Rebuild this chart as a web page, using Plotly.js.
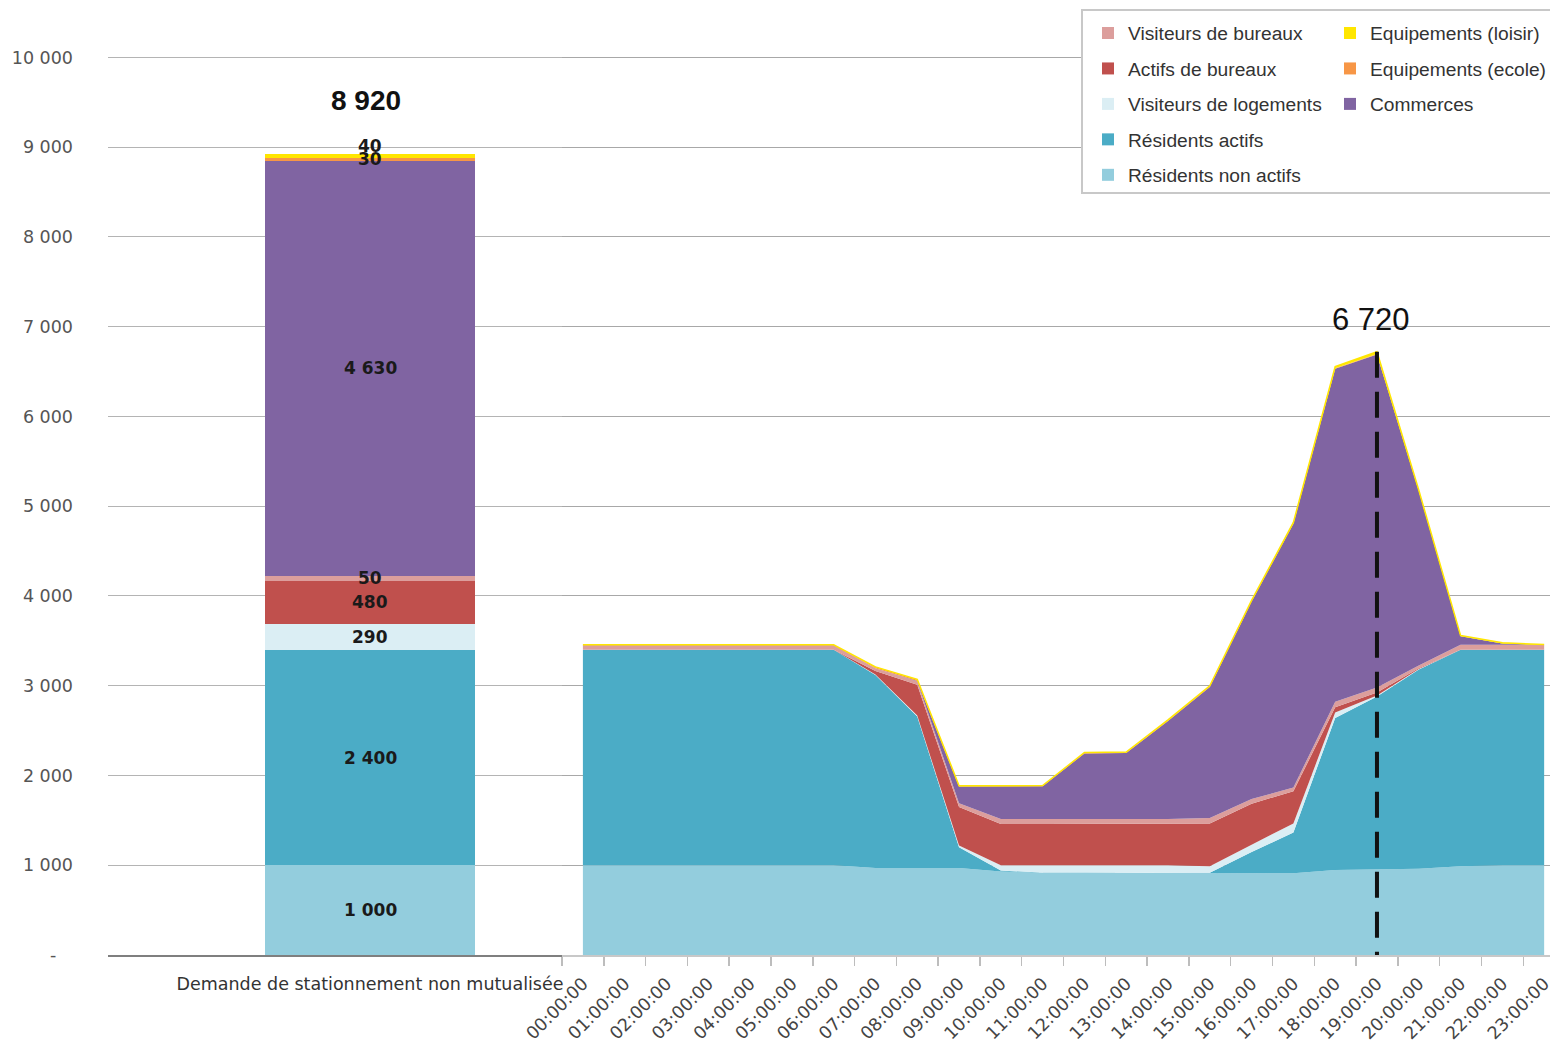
<!DOCTYPE html>
<html><head><meta charset="utf-8">
<script src="https://cdn.plot.ly/plotly-3.0.1.min.js"></script>
<style>html,body{margin:0;padding:0;background:#fff}#chart{width:1550px;height:1042px}</style>
</head><body><div id="chart"></div>
<script>
// ---------- DATA ----------
const barCategory = ['Demande de stationnement non mutualisée'];
// stacking order, bottom to top
const seriesNames = ['Résidents non actifs','Résidents actifs','Visiteurs de logements','Actifs de bureaux','Visiteurs de bureaux','Commerces','Equipements (ecole)','Equipements (loisir)'];
const barValues = [1000, 2400, 290, 480, 50, 4630, 30, 40];

const hours = ['00:00:00','01:00:00','02:00:00','03:00:00','04:00:00','05:00:00','06:00:00','07:00:00','08:00:00','09:00:00','10:00:00','11:00:00','12:00:00','13:00:00','14:00:00','15:00:00','16:00:00','17:00:00','18:00:00','19:00:00','20:00:00','21:00:00','22:00:00','23:00:00'];
const residentsNonActifs = [1000,1000,1000,1000,1000,1000,1000,970,970,970,930,918,918,918,915,910,910,910,948,950,960,990,1000,1000];
const residentsActifs    = [2400,2400,2400,2400,2400,2400,2400,2150,1687,230,10,0,0,0,0,5,237,456,1693,1930,2220,2410,2400,2400];
const visiteursLogements = [0,0,0,0,0,0,0,5,10,20,60,82,82,82,85,75,80,100,60,10,5,0,0,0];
const actifsBureaux      = [0,0,0,0,0,0,0,40,343,430,460,460,460,460,460,475,458,359,60,35,10,0,0,0];
const visiteursBureaux   = [55,55,55,55,55,55,55,30,37,40,56,56,56,56,56,60,52,40,60,55,30,55,55,55];
const commerces          = [0,0,0,0,0,0,0,0,5,186,363,365,730,735,1090,1460,2200,2940,3710,3710,1945,95,15,0];
const equipementsEcole   = [0,0,0,0,0,0,0,10,15,5,3,3,5,5,7,10,8,5,5,5,0,0,0,0];
const equipementsLoisir  = [0,0,0,0,0,0,0,5,5,5,3,3,5,5,7,5,5,10,20,25,10,10,8,3];

const yTickValues = [0,1000,2000,3000,4000,5000,6000,7000,8000,9000,10000];
const yTickLabels = ['-\u00A0\u00A0\u00A0','1 000','2 000','3 000','4 000','5 000','6 000','7 000','8 000','9 000','10 000'];

// ---------- STYLE ----------
const FONT = 'Liberation Sans, Arial, sans-serif';
const WIDE = 'DejaVu Sans, Verdana, sans-serif';
const colors = ['#93CDDD','#4BACC6','#DBEEF4','#C0504D','#DC9E9C','#8064A2','#F79646','#FFE600'];
const legendCfg = [ // [legend id, rank] per series
  ['legend',5],['legend',4],['legend',3],['legend',2],['legend',1],['legend2',3],['legend2',2],['legend2',1]
];
const W = 1550, H = 1042, T = 52, B = 87, YMAX = 10060;
const plotH = H - T - B;
const px = v => v / W;
const py = v => (H - B - v) / plotH;

const fmt = v => String(v).replace(/\B(?=(\d{3})+(?!\d))/g, ' ');

const areaSeries = [residentsNonActifs, residentsActifs, visiteursLogements, actifsBureaux, visiteursBureaux, commerces, equipementsEcole, equipementsLoisir];

const traces = [];
// stacked bar (left)
seriesNames.forEach((n, i) => {
  traces.push({
    type: 'bar', x: [0], y: [barValues[i]], width: [1], name: n,
    marker: {color: colors[i], line: {width: 0}},
    xaxis: 'x', yaxis: 'y',
    legend: legendCfg[i][0], legendrank: legendCfg[i][1], legendgroup: 'g' + i,
    hoverinfo: 'name+y'
  });
});
// stacked areas (right)
seriesNames.forEach((n, i) => {
  const isTop = i === seriesNames.length - 1;
  traces.push({
    type: 'scatter', mode: 'lines', x: hours, y: areaSeries[i], name: n,
    stackgroup: 'one', fillcolor: colors[i],
    line: {color: colors[i], width: isTop ? 1.5 : 0},
    xaxis: 'x2', yaxis: 'y2', showlegend: false
  });
});
// peak marker line
const totals = hours.map((h, k) => areaSeries.reduce((s, a) => s + a[k], 0));
const peakIdx = totals.indexOf(Math.max(...totals));
traces.push({
  type: 'scatter', mode: 'lines', x: [hours[peakIdx], hours[peakIdx]], y: [totals[peakIdx], 0],
  line: {color: '#111', width: 4, dash: '26px,14px'}, xaxis: 'x2', yaxis: 'y2',
  showlegend: false, hoverinfo: 'skip', cliponaxis: false
});

// annotations
const annotations = [];
let cum = 0;
barValues.forEach((v, i) => {
  annotations.push({
    x: 0, y: cum + v / 2, xref: 'x', yref: 'y', text: '<b>' + fmt(v) + '</b>', showarrow: false,
    yshift: i === barValues.length - 1 ? 10 : 0,
    font: {family: WIDE, size: 17, color: '#1a1a1a'}
  });
  cum += v;
});
annotations.push({
  x: 0, y: cum, xref: 'x', yref: 'y', text: '<b>' + fmt(cum) + '</b>', showarrow: false,
  yshift: 54, xshift: -4, font: {family: FONT, size: 28, color: '#111'}
});
annotations.push({
  x: hours[peakIdx], y: totals[peakIdx], xref: 'x2', yref: 'y2', text: fmt(totals[peakIdx]),
  showarrow: false, yanchor: 'bottom', yshift: 13, xshift: -6,
  font: {family: FONT, size: 31, color: '#111'}
});

const layout = {
  width: W, height: H,
  margin: {l: 0, r: 0, t: T, b: B, autoexpand: false},
  paper_bgcolor: '#fff', plot_bgcolor: 'rgba(0,0,0,0)',
  font: {family: FONT, color: '#444'},
  barmode: 'stack',
  xaxis: {
    domain: [px(108), px(562)], range: [-(370 - 108) / 210, (562 - 370) / 210],
    tickvals: [0], ticktext: barCategory, ticks: '', showgrid: false, zeroline: false,
    showline: true, linecolor: '#7f7f7f', linewidth: 1.5,
    tickfont: {family: WIDE, size: 17.5, color: '#333'}, ticklabelstandoff: 12, fixedrange: true
  },
  yaxis: {
    domain: [0, 1], range: [0, YMAX], tickvals: yTickValues, ticktext: yTickLabels,
    ticks: '', showgrid: true, gridcolor: '#B4B4B4', gridwidth: 1, zeroline: false,
    ticklabelstandoff: 34, tickfont: {family: WIDE, size: 17.5, color: '#555'}, fixedrange: true
  },
  xaxis2: {
    domain: [px(562), 1], anchor: 'y2', type: 'category', range: [-0.5, 23.14],
    tickson: 'boundaries', ticks: 'outside', ticklen: 9, tickcolor: '#BDBDBD', tickwidth: 1.5,
    showline: true, linecolor: '#C8C8C8', linewidth: 1.5, showgrid: false, zeroline: false,
    tickangle: -45, ticklabelstandoff: 10, tickfont: {family: WIDE, size: 17.5, color: '#444'}, fixedrange: true
  },
  yaxis2: {
    domain: [0, 1], anchor: 'x2', range: [0, YMAX], tickvals: yTickValues,
    showticklabels: false, ticks: '', showgrid: true, gridcolor: '#A8A8A8', gridwidth: 1,
    zeroline: false, fixedrange: true
  },
  legend: {
    x: px(1088), y: py(14), xanchor: 'left', yanchor: 'top', bgcolor: 'rgba(0,0,0,0)',
    borderwidth: 0, tracegroupgap: 7.5, font: {family: FONT, size: 19.2, color: '#333'}
  },
  legend2: {
    x: px(1330), y: py(14), xanchor: 'left', yanchor: 'top', bgcolor: 'rgba(0,0,0,0)',
    borderwidth: 0, tracegroupgap: 7.5, font: {family: FONT, size: 19.2, color: '#333'}
  },
  shapes: [{
    type: 'rect', xref: 'paper', yref: 'paper', x0: px(1082), x1: px(1560), y0: py(193), y1: py(10),
    fillcolor: '#fff', line: {color: '#C8C8C8', width: 2}, layer: 'above'
  }],
  annotations: annotations,
  showlegend: true
};

Plotly.newPlot('chart', traces, layout, {displayModeBar: false, staticPlot: true});
</script>
</body></html>
